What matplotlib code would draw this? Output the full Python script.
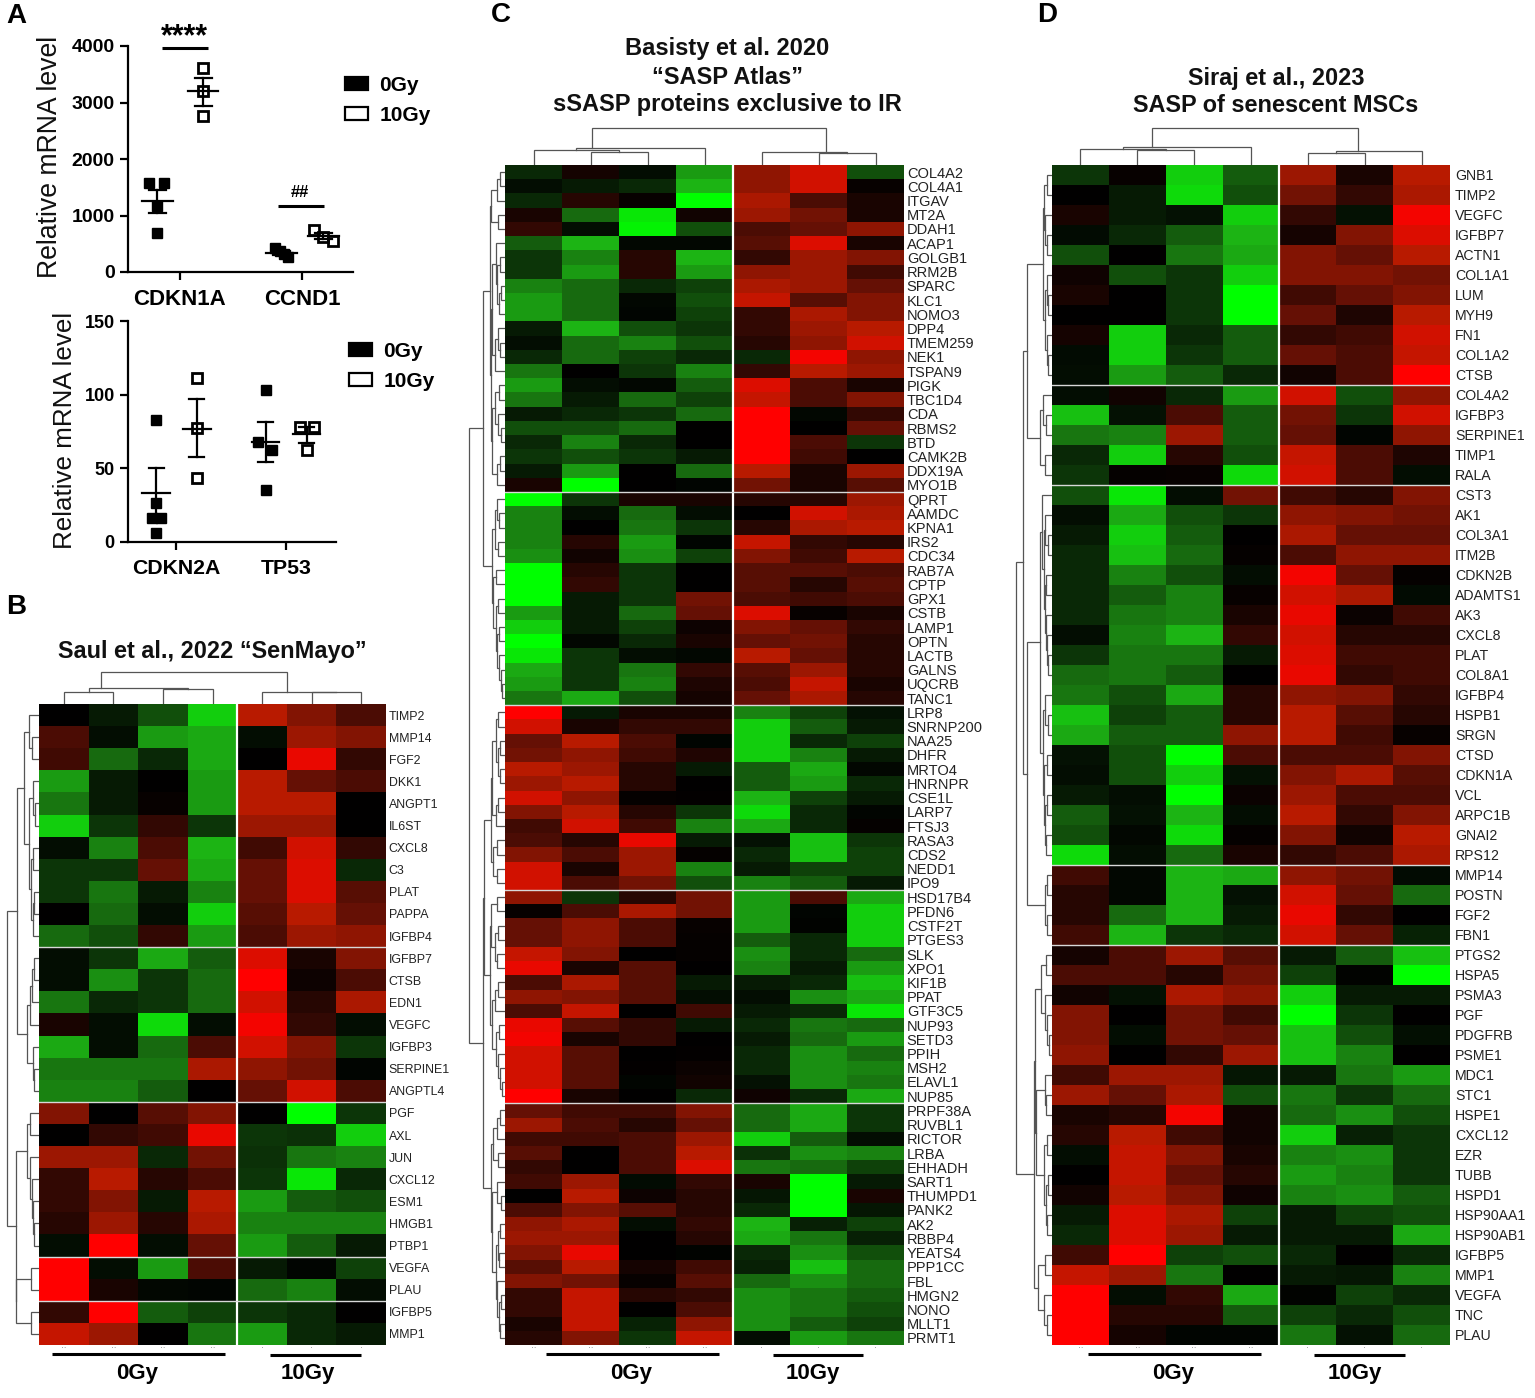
import matplotlib
matplotlib.use("Agg")
import matplotlib.pyplot as plt
from matplotlib.colors import LinearSegmentedColormap
from matplotlib.lines import Line2D
from matplotlib.patches import Patch
import numpy as np

plt.rcParams['font.family'] = ['Liberation Sans', 'DejaVu Sans']

W, H = 1535, 1398

# panel A, qPCR points
a1_genes = ['CDKN1A', 'CCND1']
a1_0gy_x = [-0.25, -0.13, -0.185, -0.185, 0.78, 0.82, 0.855, 0.885]
a1_0gy_y = [1579, 1579, 1160, 683, 418, 365, 318, 272]
a1_10gy_x = [0.19, 0.19, 0.19, 1.10, 1.175, 1.255]
a1_10gy_y = [3615, 3197, 2766, 743, 617, 557]
a1_means = [(-0.185, 1260, 1040, 1460), (0.19, 3197, 2945, 3436), (0.83, 340, 300, 380), (1.175, 640, 585, 695)]

a2_genes = ['CDKN2A', 'TP53']
a2_0gy_x = [-0.18, -0.18, -0.22, -0.14, -0.18, 0.815, 0.75, 0.875, 0.815]
a2_0gy_y = [82.8, 26.5, 16.5, 16.5, 6, 103, 68, 62.7, 35]
a2_10gy_x = [0.19, 0.19, 0.19, 1.127, 1.25, 1.188]
a2_10gy_y = [111, 77.4, 43.5, 78, 78, 62.7]
a2_means = [(-0.18, 33, 16, 50), (0.19, 77, 58, 97), (0.815, 68, 54, 81.5), (1.188, 73, 67, 78)]

# panel B
b_genes = ['TIMP2', 'MMP14', 'FGF2', 'DKK1', 'ANGPT1', 'IL6ST', 'CXCL8', 'C3', 'PLAT', 'PAPPA', 'IGFBP4',
           'IGFBP7', 'CTSB', 'EDN1', 'VEGFC', 'IGFBP3', 'SERPINE1', 'ANGPTL4',
           'PGF', 'AXL', 'JUN', 'CXCL12', 'ESM1', 'HMGB1', 'PTBP1', 'VEGFA', 'PLAU', 'IGFBP5', 'MMP1']
b_values = [
    [0, -1, -3, -8, 7, 5, 3], [3, -0.5, -6, -6.5, -0.5, 6, 5], [2.5, -4, -1.5, -6.5, 0, 9, 2],
    [-6, -1, 0, -6, 7, 4, 3], [-4.5, -1, 0.3, -6, 7, 7, 0], [-8, -2, 2, -2, 6, 6, 0],
    [-0.5, -5, 3, -7, 2.5, 8, 2], [-2, -2, 4, -6.5, 4, 8.5, -1.5], [-2, -4.5, -1, -5, 4, 8.5, 3.5],
    [0, -4, -0.5, -8, 3.5, 7, 4], [-4, -3, 2, -6, 3, 6, 5.5],
    [-0.5, -2, -6.5, -3.5, 8.5, 1, 5], [-0.5, -5.5, -2, -4, 10, 0.5, 3], [-4.5, -1.5, -2, -4, 8, 1.5, 6.5],
    [1, -0.5, -8.5, -0.5, 9.5, 2, -0.5], [-6.5, -0.5, -4, 3, 8, 5, -2], [-4.5, -4.5, -4.5, 6.5, 5.5, 4.5, -0.2],
    [-5, -5, -3.5, 0, 4, 8, 3],
    [5, 0, 3.5, 5, 0, -10, -2], [0, 2, 2.5, 9, -2, -1.8, -8], [6, 6, -1.5, 4.5, -1.8, -4.5, -5],
    [2, 7, 1.5, 3, -2, -9, -1.5], [2, 5, -1, 7, -6, -3.5, -3], [1.5, 6, 1.5, 6.5, -5, -5, -5],
    [-0.5, 10, -0.5, 4, -6, -3.5, -1],
    [10, -0.5, -6, 3, -1, -0.2, -2.5], [10, 1, -0.3, -0.2, -4, -5, -0.5],
    [2, 10, -3.5, -2.5, -2, -1.5, 0], [7.5, 6, 0, -4.5, -6, -1.5, -1],
]
b_breaks = [11, 18, 25, 27]
b_row_tree = [32,
              [22,
               [15, [10, 0, [7, 1, 2]], [10, [6, 3, [4, 4, 5]], [8, [6, 6, 7], [6, [5, 8, 9], 10]]]],
               [12, [9, [7, [5, 11, 12], 13], 14], [6.5, 15, [5, 16, 17]]]],
              [23.5,
               [12, [9, 18, 19], [9, 20, [7, 21, [6, 22, [5, 23, 24]]]]],
               [23, [8, 25, 26], [8, 27, 28]]]]
b_col_tree = [32, [16, [12, 0, 1], [15, 2, 3], 0.125], [12.3, 4, [12, 5, 6], 0.34]]

# panel C
c_genes = ['COL4A2', 'COL4A1', 'ITGAV', 'MT2A', 'DDAH1', 'ACAP1', 'GOLGB1', 'RRM2B', 'SPARC', 'KLC1', 'NOMO3',
           'DPP4', 'TMEM259', 'NEK1', 'TSPAN9', 'PIGK', 'TBC1D4', 'CDA', 'RBMS2', 'BTD', 'CAMK2B', 'DDX19A', 'MYO1B',
           'QPRT', 'AAMDC', 'KPNA1', 'IRS2', 'CDC34', 'RAB7A', 'CPTP', 'GPX1', 'CSTB', 'LAMP1', 'OPTN', 'LACTB',
           'GALNS', 'UQCRB', 'TANC1',
           'LRP8', 'SNRNP200', 'NAA25', 'DHFR', 'MRTO4', 'HNRNPR', 'CSE1L', 'LARP7', 'FTSJ3', 'RASA3', 'CDS2',
           'NEDD1', 'IPO9',
           'HSD17B4', 'PFDN6', 'CSTF2T', 'PTGES3', 'SLK', 'XPO1', 'KIF1B', 'PPAT', 'GTF3C5', 'NUP93', 'SETD3',
           'PPIH', 'MSH2', 'ELAVL1', 'NUP85',
           'PRPF38A', 'RUVBL1', 'RICTOR', 'LRBA', 'EHHADH', 'SART1', 'THUMPD1', 'PANK2', 'AK2', 'RBBP4', 'YEATS4',
           'PPP1CC', 'FBL', 'HMGN2', 'NONO', 'MLLT1', 'PRMT1']
c_values = [
    [-1.5, 0.8, -0.5, -6, 5.5, 8, -3], [-0.5, -1, -1.5, -7, 5.5, 8, 0.3], [-1.5, 1.5, 0.3, -10, 6.5, 3, 1],
    [1, -4, -9, 0.7, 6, 4.5, 1], [2, -0.5, -9.5, -3, 3, 4, 5.5], [-3.5, -7, -0.3, -0.3, 3.5, 8.5, 1],
    [-2, -5, 1.5, -7, 2, 6, 5], [-2, -6, 1.5, -6, 5.5, 6, 2.5], [-5, -4, -1.5, -2.5, 6.5, 6, 4],
    [-6, -4, -0.3, -3, 7.5, 3.5, 5], [-6, -4, -0.2, -2.5, 2, 6.5, 5], [-1, -7, -3, -2, 2, 6, 7],
    [-0.5, -4, -5, -3, 1.5, 5.5, 8], [-1.5, -4, -2.5, -1.5, -1.5, 9.5, 5.5], [-4.5, 0, -2, -5, 2, 7, 6],
    [-6, -0.5, -0.3, -3.5, 8.5, 3, 1], [-4.5, -1, -4, -2.5, 7.5, 3, 5], [-1, -1.5, -2, -4, 10, -0.3, 2],
    [-3, -3, -4, 0, 10, 0, 4], [-1.5, -5, -1.5, 0, 10, 3, -2], [-2, -3, -2, -1, 10, 2.5, 0],
    [-1, -6, 0, -4, 7, 1, 6], [1, -10, 0, -0.2, 4.5, 1, 3.5],
    [-10, -2, 1, 1, 1.5, 1.5, 6], [-5, -0.5, -4, -0.5, 0, 8, 6.5], [-5, 0, -4.5, -2, 1.5, 6.5, 7],
    [-5, 1.5, -6, -0.2, 7.5, 2, 1.5], [-5.5, 0.7, -5.5, -2.5, 5, 2.5, 7], [-10, 1.5, -2, 0, 3.5, 3.5, 3],
    [-10, 2, -2, 0, 3.5, 1.5, 3.5], [-10, -1, -2, 4.5, 3, 2.5, 3], [-6, -1, -4, 4, 8.5, 0.3, 1],
    [-8, -1, -2.5, 0.5, 5, 4, 2], [-10, -0.3, -1.5, 1, 4, 4.5, 1.5], [-9, -2, -0.5, -0.3, 7, 4, 1.5],
    [-6.5, -2, -4.5, 2, 3.5, 6, 1.5], [-6, -2, -5, 1.2, 3, 7.5, 1], [-4.5, -6.5, -3, 0.8, 4, 6.5, 1.5],
    [10, -1, 1, 1, -5, -2.5, -0.7], [8, 1, 2, 2, -8, -3.5, -1], [4, 7, 3, -0.2, -8, -1.5, -2.5],
    [4.5, 5.5, 2.5, 1.3, -8, -5, -1], [7, 6, 1.5, -1, -3.5, -6.5, -0.3], [6, 7, 1.5, 0, -3.5, -6, -1.5],
    [8, 5.5, 0.2, 0.1, -7, -2.5, -1], [5, 7, 1.5, -2, -8.5, -1.5, -0.2], [2.5, 8, 2.5, -5, -6.5, -1.5, 0.2],
    [3, 1.5, 9, -1, -0.7, -7.5, -2], [5, 3, 6, 0.2, -1.5, -7.5, -2.5], [8, 1, 6, -5, -1, -2.5, -2.5],
    [8, 3, 4.5, -3, -5, -3.5, -1],
    [5.5, -2, 1.5, 4.5, -6, 3, -6.5], [0.3, 3, 6.5, 4.5, -6, -0.2, -8], [4, 5.5, 3, 0.3, -6, -0.1, -8],
    [4, 5.5, 3, 0.2, -3.5, -1.5, -8], [7.5, 5, 0, 0.2, -5.5, -1.5, -4], [9, 1, 3.5, 0, -5, -1, -6],
    [3, 6.5, 3.5, -1, -1, -1.5, -7.5], [5.5, 5, 3.5, -0.5, -0.5, -5.5, -6.5], [3, 7.5, 0, 2.5, -1, -1.5, -9],
    [9, 3.5, 2, -1, -1.5, -4.5, -4], [9.5, 1, 2, 0, -1, -4, -6], [8, 3.5, 0, 0.1, -1.5, -5.5, -4],
    [8, 3.5, 0.1, 0.4, -1.5, -5.5, -5], [8, 3.5, -0.2, 0.7, -0.7, -5.5, -4.5], [10, 1, 0, -1.5, 0.6, -1.5, -6.5],
    [4, 2.5, 2.5, 5, -4, -6.5, -2], [6, 3, 1.5, 4, -4, -6.5, -2], [2.5, 2.5, 3, 6, -8, -3.5, -0.5],
    [3.5, 0, 3, 7, -1.8, -5.5, -5], [2, 0, 3, 8.5, -4.5, -4, -2.5], [2.5, 6, -0.4, 2, 1, -10, -1],
    [0, 7, 0.5, 1.5, -0.8, -10, 1], [3, 5, 3.5, 1.5, -1.5, -10, -0.8], [5.5, 6.5, -0.5, 2, -7, -1.2, -2.5],
    [6, 6, 0, 1.5, -6.5, -4.5, -1.2], [5, 9, 0, -0.1, -1.5, -5.5, -3], [3.5, 7, 0.8, 2.5, -1.2, -7.5, -4],
    [5, 4.5, 0.3, 3.5, -4, -5.5, -4], [2, 7.5, 1.5, 2, -5.5, -4.5, -3.5], [2, 7.5, 0, 3, -5.5, -4.5, -3],
    [1, 7.5, -1.3, 5.5, -5.5, -3.5, -2.5], [1.5, 5, -2, 7.5, -0.5, -6, -4.5],
]
c_breaks = [23, 38, 51, 66]
c_up1 = [15,
         [14.5, [8, [5, 0, 1], 2], [7, 3, 4]],
         [14,
          [13, [9, 5, [8, [5, 6, 7], [6, [4, 8, 9], 10]]], [10, [7, 11, [5, 12, 13]], 14]],
          [13, [10, [6, 15, 16], [7, 17, [4, 18, 19]]], [8, [5, 20, 21], 22]]]]
c_up2 = [13,
         [10, [8, 23, [6, 24, 25]], [7, 26, 27]],
         [12, [9, 28, 29], [9.5, [7, 30, 31], [8, [6, 32, 33], [6, 34, [4, 35, [3, 36, 37]]]]]]]
c_low1 = [21,
          [14,
           [13, [9, [7, 38, 39], [7, [5, 40, 41], [5, 42, 43]]], [9, [7, 44, 45], 46]],
           [12, [8, 47, 48], [8, 49, 50]]],
          [15,
           [14, [8, 51, 52], [10, [7, 53, 54], [8, 55, 56]]],
           [13, [10, [7, 57, 58], 59], [9, [6, 60, 61], [7, 62, [5, 63, [3, 64, 65]]]]]]]
c_low2 = [14,
          [12, [8, [5, 66, 67], 68], [7, 69, 70]],
          [13, [8, 71, [4, 72, 73]], [9, [7, [5, 74, 75], [6, 76, 77]], [8, 78, [6, [4, 79, 80], [5, 81, 82]]]]]]
c_row_tree = [36, [22, c_up1, c_up2], [22, c_low1, c_low2]]
c_col_tree = [37, [17, [15, 0, [13, 1, 2]], 3, 0.125], [13, 4, [12, 5, 6], 0.76]]

# panel D
d_genes = ['GNB1', 'TIMP2', 'VEGFC', 'IGFBP7', 'ACTN1', 'COL1A1', 'LUM', 'MYH9', 'FN1', 'COL1A2', 'CTSB',
           'COL4A2', 'IGFBP3', 'SERPINE1', 'TIMP1', 'RALA',
           'CST3', 'AK1', 'COL3A1', 'ITM2B', 'CDKN2B', 'ADAMTS1', 'AK3', 'CXCL8', 'PLAT', 'COL8A1', 'IGFBP4',
           'HSPB1', 'SRGN', 'CTSD', 'CDKN1A', 'VCL', 'ARPC1B', 'GNAI2', 'RPS12',
           'MMP14', 'POSTN', 'FGF2', 'FBN1',
           'PTGS2', 'HSPA5', 'PSMA3', 'PGF', 'PDGFRB', 'PSME1', 'MDC1', 'STC1', 'HSPE1', 'CXCL12', 'EZR', 'TUBB',
           'HSPD1', 'HSP90AA1', 'HSP90AB1', 'IGFBP5', 'MMP1', 'VEGFA', 'TNC', 'PLAU']
d_values = [
    [-2, 0.3, -8, -3.5, 6, 1, 7], [0, -1, -8.5, -3, 4.5, 2, 6.5], [1, -1, -0.7, -8, 2, -0.7, 9.5],
    [-0.4, -1.5, -3.5, -7, 0.8, 5, 8.5], [-3, 0, -4.5, -6.5, 5, 4, 7], [0.6, -3, -2, -8, 5, 5, 4.5],
    [1, 0, -2, -10, 2.5, 4, 5], [0, 0, -2, -10, 4, 1.2, 7], [0.8, -8, -1.5, -3.5, 2, 2.5, 8],
    [-0.4, -8, -2, -3.5, 4, 3, 7.5], [-0.5, -6, -3.5, -1.5, 0.7, 3, 10],
    [-0.5, 0.7, -1.5, -6, 8, -3, 5.5], [-7.5, -0.7, 3, -3.5, 4.5, -2, 8], [-4.5, -5, 6, -3.5, 4, -0.2, 5.5],
    [-1.5, -8, 1.5, -3, 7.5, 3, 1.2], [-2, 0.2, 0.3, -8.5, 8, 3, -0.5],
    [-3, -9, -0.5, 4.5, 2.5, 1.5, 5], [-0.5, -6.5, -3, -2, 5.5, 5, 4.5], [-1, -8, -3.5, 0, 6.5, 4, 4],
    [-1.5, -7.5, -4, 0.2, 3, 5.5, 5.5], [-1.5, -5, -3, -0.5, 9.5, 4, 0.2], [-1.5, -3.5, -5, 0.3, 8, 6.5, -0.4],
    [-1.5, -4.5, -5, 1, 9, 0.4, 2.5], [-0.5, -5, -7, 2, 8, 1.5, 1.5], [-2, -4.5, -4.5, -1, 8.5, 2.5, 2.5],
    [-4, -4.5, -3.5, 0, 9, 2, 2.5], [-4.5, -3, -6.5, 1.5, 5.5, 5, 2], [-7.5, -2.5, -3.5, 1.5, 7, 3.5, 1.5],
    [-6.5, -3.5, -3.5, 5.5, 7, 2.5, 0.3], [-0.7, -3, -10, 3, 3, 3, 5], [-0.5, -3, -8, -0.7, 5, 6.5, 3.5],
    [-1, -0.5, -10, 0.4, 6, 3, 3], [-3.5, -0.7, -7, -0.5, 7, 2, 5], [-3, -0.3, -8.5, 0.2, 5, 0.7, 7],
    [-8.5, -0.5, -4, 1, 2, 3, 6.5],
    [2.5, -0.3, -7, -6.5, 5.5, 4.5, -0.4], [1.5, -0.3, -7, -0.7, 8, 4, -4], [1.5, -4, -7, -1, 9, 2, 0],
    [2.5, -7, -2, -1.5, 8, 4, -1.3],
    [0.8, 3, 6, 3.5, -1, -3.5, -7.5], [3, 3, 1.5, 4.5, -2.5, -0.1, -10], [0.7, -0.7, 6.5, 5.5, -8, -1, -1],
    [5, 0, 4.5, 2.5, -10, -2, 0], [5, -0.5, 4.5, 4, -7.5, -3, -0.6], [5.5, 0, 2, 6, -7.5, -5, 0],
    [2.5, 6, 6, -0.8, -1, -4.5, -6], [6, 4, 6.5, -3, -4.5, -2, -4], [1, 1.5, 9.5, 0.7, -4, -5.5, -3],
    [1.5, 7, 2.5, 0.7, -8, -1.2, -2], [-0.5, 7.5, 5, 1, -5, -5.5, -2], [0, 7.5, 4, 1.5, -6, -5, -2],
    [0.7, 7, 5, 0.6, -5, -5.5, -3.5], [-1, 8.5, 6.5, -2.5, -1, -2.5, -3], [-1.5, 8.5, 6, -1, -1, -1, -6.5],
    [2.5, 10, -2.5, -3, -1.5, 0, -1.5], [7.5, 6, -4.5, 0, -1, -0.8, -5], [10, -0.5, 2, -6.5, -0.1, -2.5, -1.5],
    [10, 1.5, 1.5, -3.5, -2.5, -1.5, -3], [10, 0.8, -0.2, -0.2, -4.5, -0.7, -4],
]
d_breaks = [11, 16, 35, 39]
d_row_tree = [36,
              [29,
               [25,
                [9, [8, [5, 0, 1], [7, 2, [5, 3, 4]]], [7, [5, 5, [4, 6, 7]], [5, 8, [4, 9, 10]]]],
                [12, [9, 11, [6, 12, 13]], [7, 14, 15]]],
               [25,
                [12,
                 [10, 16, [8, [7, 17, [4, 18, 19]], [7, [6, 20, 21], [6, 22, [5, 23, [4, 24, 25]]]]]],
                 [9, [7, 26, [4, 27, 28]], [8, [5, 29, 30], [7, [5, 31, 32], [6, 33, 34]]]]],
                [7, [5, 35, 36], [5, 37, 38]]]],
              [18,
               [17,
                [11, [6, 39, 40], [7, 41, [5, 42, [3, 43, 44]]]],
                [16, [7, 45, [6, 46, 47]], [8, [5, 48, 49], [6, [4, 50, 51], [5, 52, 53]]]]],
               [14, [7, 54, 55], [8, 56, [5, 57, 58]]]]]
d_col_tree = [37, [18, [16, 0, [15, 1, 2]], 3, 0.23], [14, [12, 4, 5], 6, 0.25]]

col_marks = ['··', '··', '··', '··', '·', '·', '·']

# the scan's mid greens and reds are not pure, so a few anchors between the ends
green_black_red = LinearSegmentedColormap.from_list('gbr', [
    (0, '#00ff00'), (0.15, '#1cb414'), (0.3, '#17690f'), (0.5, '#000000'),
    (0.7, '#641005'), (0.85, '#b81a00'), (1, '#ff0000')])

fig = plt.figure(figsize=(W / 100, H / 100), dpi=100, facecolor='white')


def axpx(x0, y0, x1, y1):
    return fig.add_axes([x0 / W, 1 - y1 / H, (x1 - x0) / W, (y1 - y0) / H])


def fig_text(x, y, s, **kw):
    kw.setdefault('ha', 'center')
    kw.setdefault('va', 'center')
    return fig.text(x / W, 1 - y / H, s, **kw)


def fig_line(x0, x1, y, lw=2.2):
    fig.add_artist(Line2D([x0 / W, x1 / W], [1 - y / H, 1 - y / H], color='black', lw=lw, solid_capstyle='butt'))


def draw_tree(ax, node, rows):
    # node is [height, left, right] plus optionally where the stem leaves, leaves are indexes
    if isinstance(node, int):
        return node + 0.5, 0
    pa, ha = draw_tree(ax, node[1], rows)
    pb, hb = draw_tree(ax, node[2], rows)
    frac = node[3] if len(node) > 3 else 0.5
    hs = [ha, node[0], node[0], hb]
    ps = [pa, pa, pb, pb]
    if rows:
        ax.plot(hs, ps, color='#555555', lw=0.9, solid_joinstyle='miter')
    else:
        ax.plot(ps, hs, color='#555555', lw=0.9, solid_joinstyle='miter')
    return pa + (pb - pa) * frac, node[0]


def heatmap(box, genes, values, breaks, row_tree, col_tree, row_depth, label_size, pad=2):
    x0, y0, x1, y1 = box
    data = np.array(values)
    ax = axpx(x0, y0, x1, y1)
    ax.pcolormesh(np.arange(8), np.arange(len(genes) + 1), data, cmap=green_black_red, vmin=-10, vmax=10)
    ax.set_xlim(0, 7)
    ax.set_ylim(len(genes), 0)
    ax.axvline(4, color='white', lw=1.6)
    for b in breaks:
        ax.axhline(b, color='#d8d8d8', lw=1)
    ax.yaxis.tick_right()
    ax.set_yticks(np.arange(len(genes)) + 0.5, genes, fontsize=label_size, color='#222222')
    ax.set_xticks(np.arange(7) + 0.5, col_marks, fontsize=6, color='#777777')
    ax.tick_params(length=0, pad=pad)
    ax.tick_params(axis='x', pad=0)
    for s in ax.spines.values():
        s.set_visible(False)

    ax_r = axpx(x0 - row_depth, y0, x0, y1)
    draw_tree(ax_r, row_tree, True)
    ax_r.set_xlim(row_depth, 0)
    ax_r.set_ylim(len(genes), 0)
    ax_r.axis('off')

    ax_c = axpx(x0, y0 - 40, x1, y0)
    draw_tree(ax_c, col_tree, False)
    ax_c.set_xlim(0, 7)
    ax_c.set_ylim(0, 40)
    ax_c.axis('off')


def scatter_axes(box, xlim, ylim, yticks, genes, xs0, ys0, xs1, ys1, means, half, fs, xfs):
    ax = axpx(*box)
    ax.plot(xs0, ys0, ls='none', marker='s', ms=7.5, color='black', clip_on=False)
    ax.plot(xs1, ys1, ls='none', marker='s', ms=7.5, mfc='none', mec='black', mew=2, clip_on=False)
    for x, m, lo, hi in means:
        ax.plot([x - half, x + half], [m, m], color='black', lw=1.6)
        ax.plot([x, x], [lo, hi], color='black', lw=1.6)
        for v in (lo, hi):
            ax.plot([x - half * 0.55, x + half * 0.55], [v, v], color='black', lw=1.6)
    ax.set_xlim(*xlim)
    ax.set_ylim(*ylim)
    ax.set_yticks(yticks)
    ax.set_xticks([0, 1], genes)
    ax.tick_params(width=1.6, length=6, labelsize=fs)
    ax.tick_params(axis='x', pad=6.5, labelsize=xfs)
    for t in ax.get_xticklabels() + ax.get_yticklabels():
        t.set_fontweight('bold')
    ax.spines['top'].set_visible(False)
    ax.spines['right'].set_visible(False)
    ax.spines['left'].set_linewidth(1.6)
    ax.spines['bottom'].set_linewidth(1.6)
    ax.patch.set_alpha(0)
    return ax


# panel A
ax1 = scatter_axes((128, 46, 353, 272), (-0.426, 1.418), (0, 4000), [0, 1000, 2000, 3000, 4000], a1_genes,
                   a1_0gy_x, a1_0gy_y, a1_10gy_x, a1_10gy_y, a1_means, 0.125, 14, 16)
ax1.plot([-0.15, 0.23], [3960, 3960], color='black', lw=2.2, solid_capstyle='butt', clip_on=False)
ax1.text(0.04, 4160, '****', ha='center', va='center', fontsize=22, fontweight='bold')
ax1.plot([0.8, 1.18], [1170, 1170], color='black', lw=2.2, solid_capstyle='butt')
ax1.text(0.985, 1400, '##', ha='center', va='center', fontsize=12, fontweight='bold')

ax2 = scatter_axes((128, 321, 336, 542), (-0.436, 1.4545), (0, 150), [0, 50, 100, 150], a2_genes,
                   a2_0gy_x, a2_0gy_y, a2_10gy_x, a2_10gy_y, a2_means, 0.125, 13, 15.3)

for ax, anchor in ((ax1, (0.964, 0.867)), (ax2, (1.0625, 0.905))):
    ax.legend(handles=[Patch(fc='black', ec='black', lw=1.6, label='0Gy'),
                       Patch(fc='white', ec='black', lw=1.6, label='10Gy')],
              loc='upper left', bbox_to_anchor=anchor, frameon=False, handlelength=1.1, handleheight=0.6,
              prop={'size': 15, 'weight': 'bold'}, labelspacing=0.52, handletextpad=0.55, borderpad=0,
              borderaxespad=0)

fig_text(50, 157, 'Relative mRNA level', rotation=90, fontsize=19.2, color='#111111')
fig_text(65, 430, 'Relative mRNA level', rotation=90, fontsize=18.7, color='#111111')

# heatmaps
heatmap((39, 704, 386, 1345), b_genes, b_values, b_breaks, b_row_tree, b_col_tree, 36, 8.9)
heatmap((505, 165, 904, 1345), c_genes, c_values, c_breaks, c_row_tree, c_col_tree, 40, 10.5)
heatmap((1052, 165, 1450, 1345), d_genes, d_values, d_breaks, d_row_tree, d_col_tree, 40, 10.2, pad=3.5)

# group bars under the heatmaps
for x0, x1, x2, x3, t0, t1 in ((52, 225, 270, 361, 137, 308),
                               (546, 719, 773, 863, 631, 813),
                               (1088, 1261, 1314, 1405, 1173, 1355)):
    fig_line(x0, x1, 1354)
    fig_line(x2, x3, 1355)
    fig_text(t0, 1373, '0Gy', fontsize=16, fontweight='bold')
    fig_text(t1, 1373, '10Gy', fontsize=16, fontweight='bold')

# titles
fig_text(212, 652, 'Saul et al., 2022 “SenMayo”', fontsize=16.9, fontweight='bold', color='#111111')
fig_text(727, 49, 'Basisty et al. 2020', fontsize=17, fontweight='bold', color='#111111')
fig_text(727, 77, '“SASP Atlas”', fontsize=17, fontweight='bold', color='#111111')
fig_text(727, 105, 'sSASP proteins exclusive to IR', fontsize=17, fontweight='bold', color='#111111')
fig_text(1276, 78, 'Siraj et al., 2023', fontsize=16.9, fontweight='bold', color='#111111')
fig_text(1276, 106, 'SASP of senescent MSCs', fontsize=16.9, fontweight='bold', color='#111111')

# panel letters
for letter, x, y in (('A', 16, 16), ('B', 16, 607), ('C', 501, 15), ('D', 1047, 15)):
    fig_text(x, y, letter, fontsize=20, fontweight='bold')

fig.savefig('out.png', dpi=100)
